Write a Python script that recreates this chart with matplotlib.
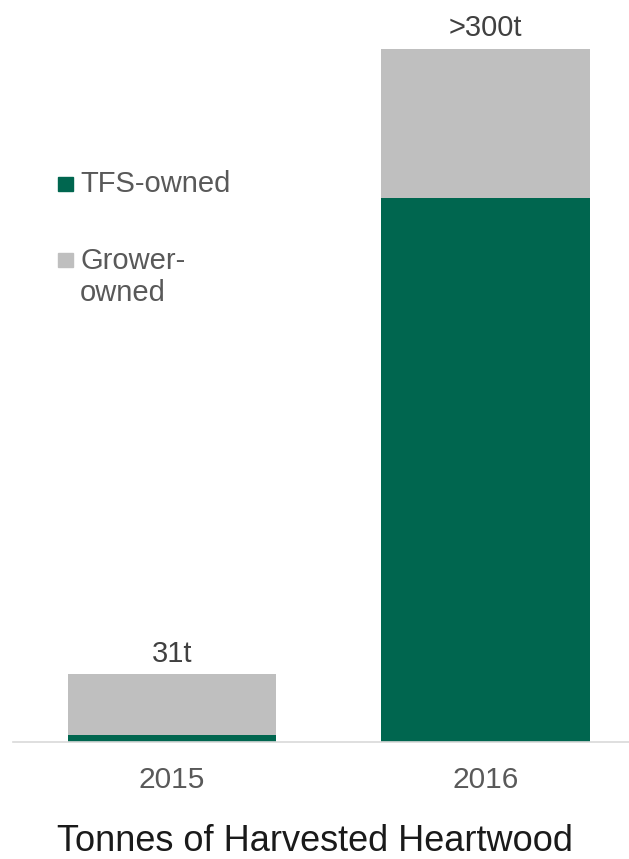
import numpy as np
import matplotlib.pyplot as plt
from matplotlib.patches import Rectangle

plt.rcParams["font.family"] = ["Liberation Sans", "DejaVu Sans"]

years = ["2015", "2016"]
tfs_owned = [3, 248]
grower_owned = [28, 68]
totals_text = ["31t", ">300t"]

green = "#00664F"
grey = "#BFBFBF"

W, H = 629, 859
fig = plt.figure(figsize=(W / 100, H / 100), dpi=100)
ax = fig.add_axes([13 / W, (H - 742) / H, 1 - 13 / W, 693 / H])

x = np.arange(len(years))
ax.bar(x, tfs_owned, width=0.664, color=green)
ax.bar(x, grower_owned, bottom=tfs_owned, width=0.664, color=grey)

ax.set_xlim(-0.507, 1.458)
ax.set_ylim(0, 316)

for i in range(len(years)):
    ax.annotate(totals_text[i], (x[i], tfs_owned[i] + grower_owned[i]),
                xytext=(0, 9), textcoords="offset points",
                ha="center", va="baseline", fontsize=21, color="#404040")

for s in ["top", "right", "left"]:
    ax.spines[s].set_visible(False)
ax.spines["bottom"].set_color("#D9D9D9")
ax.spines["bottom"].set_linewidth(1.2)
ax.set_yticks([])
ax.set_xticks(x)
ax.set_xticklabels(years, fontsize=21.5, color="#595959")
ax.tick_params(axis="x", length=0, pad=17)

fig.text(0.5, (H - 851) / H, "Tonnes of Harvested Heartwood",
         ha="center", va="baseline", fontsize=26, color="#1a1a1a")

# legend drawn by hand
fig.patches.append(Rectangle((58 / W, (H - 191) / H), 15 / W, 14 / H,
                             transform=fig.transFigure, color=green))
fig.patches.append(Rectangle((58 / W, (H - 267) / H), 15 / W, 14 / H,
                             transform=fig.transFigure, color=grey))
fig.text(80 / W, (H - 184) / H, "TFS-owned", ha="left", va="center",
         fontsize=21, color="#595959")
fig.text(80 / W, (H - 277) / H, "Grower-\nowned", ha="left", va="center",
         fontsize=21, color="#595959", linespacing=1.2)

fig.savefig("out.png", dpi=100)
